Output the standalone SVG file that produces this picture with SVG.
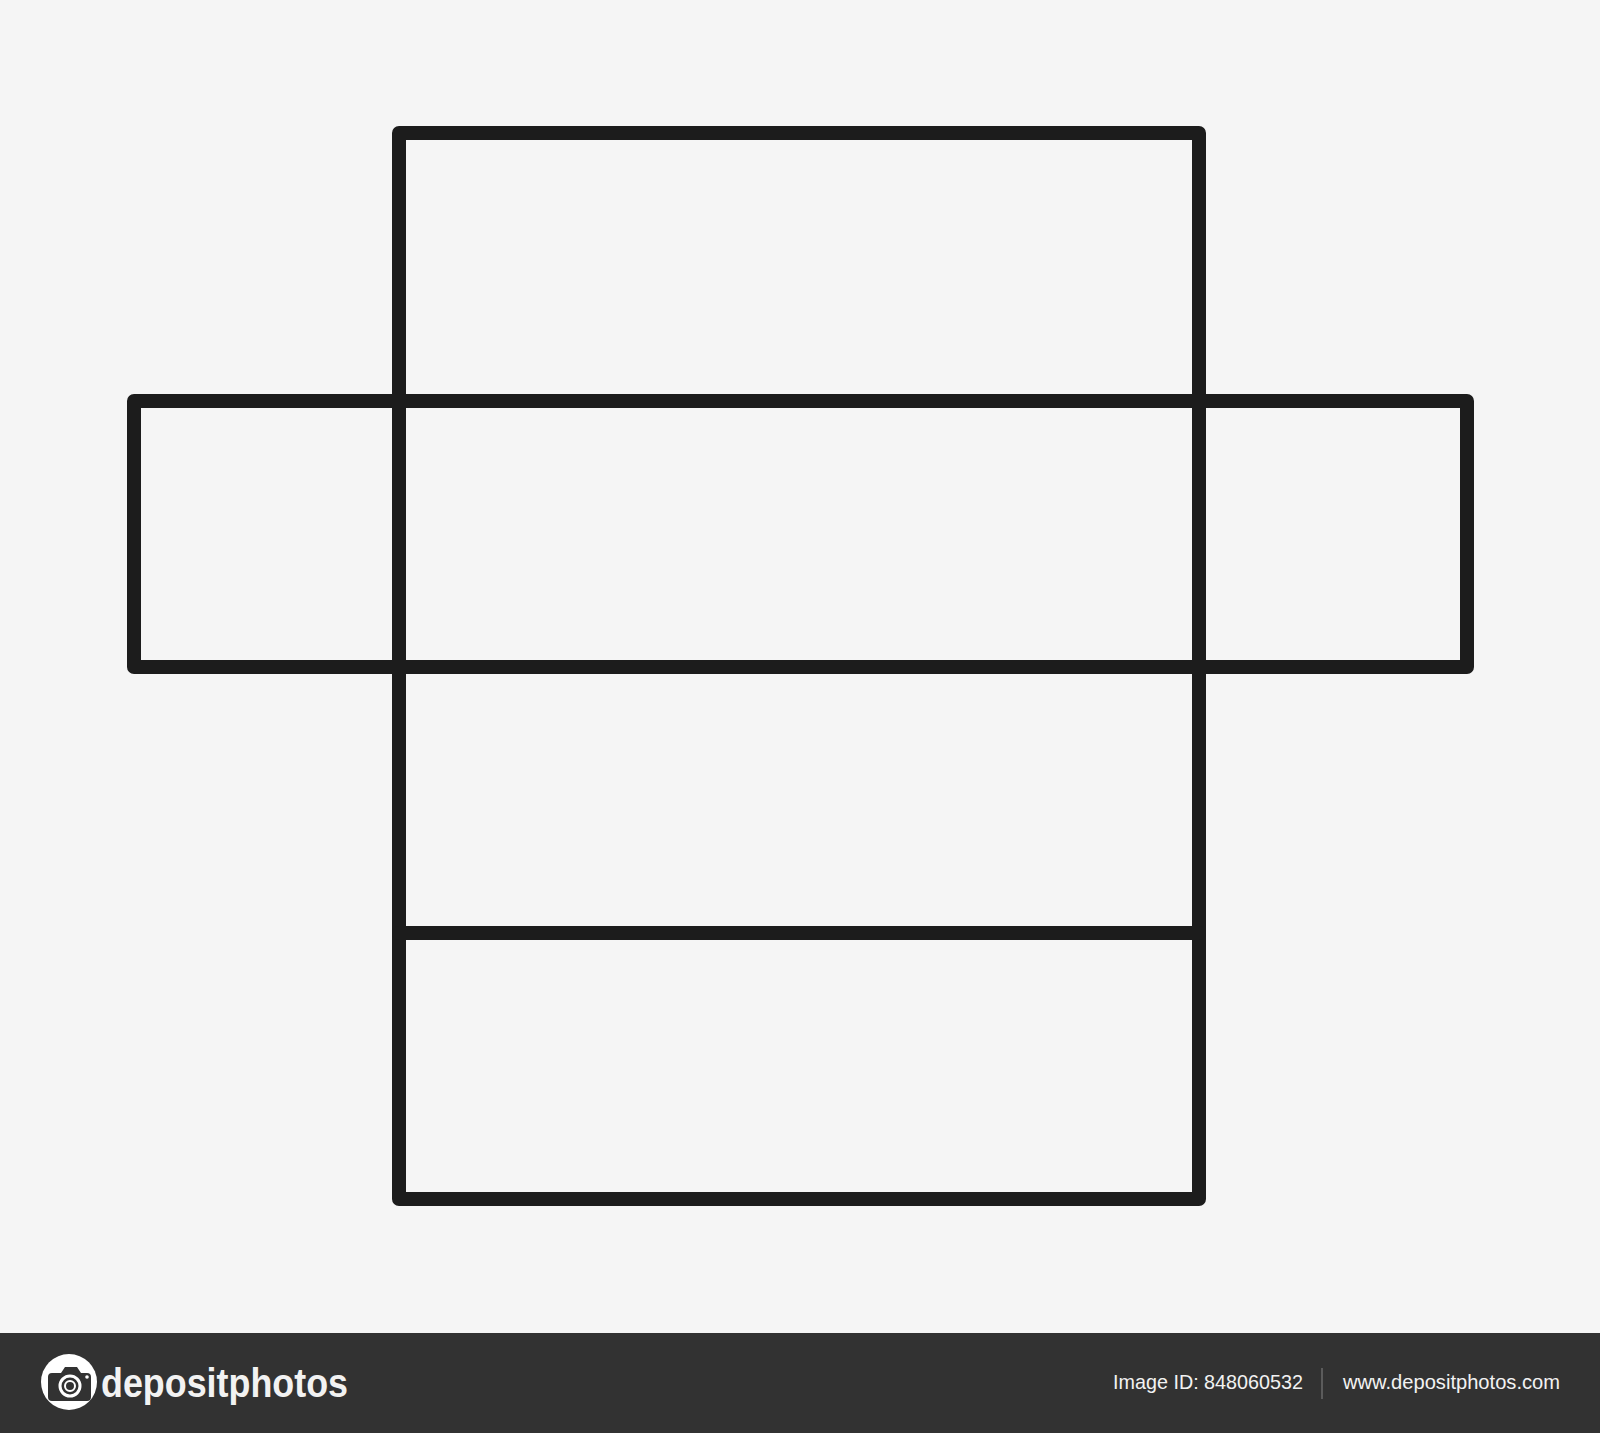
<svg xmlns="http://www.w3.org/2000/svg" width="1600" height="1433" viewBox="0 0 1600 1433">
<style>
.ln{fill:none;stroke:#1c1c1c;stroke-width:14;stroke-linejoin:round;stroke-linecap:round}
.ft{font-family:"Liberation Sans",Arial,sans-serif;fill:#f2f2f2}
</style>
<rect x="0" y="0" width="1600" height="1433" fill="#f5f5f5"/>
<g id="net">
<rect id="main" class="ln" x="399" y="133" width="800" height="1066"/>
<rect id="side" class="ln" x="134" y="401" width="1333" height="266"/>
<line id="fold" class="ln" x1="399" y1="933" x2="1199" y2="933"/>
</g>
<g id="footer">
<rect x="0" y="1333" width="1600" height="100" fill="#323232"/>
<circle cx="69" cy="1382" r="28" fill="#ffffff"/>
<path d="M52,1373 h9 l4,-6 h12 l4,6 h6 a4,4 0 0 1 4,4 v20 a4,4 0 0 1 -4,4 h-35 a4,4 0 0 1 -4,-4 v-20 a4,4 0 0 1 4,-4z" fill="#323232"/>
<circle cx="70" cy="1386" r="10" fill="none" stroke="#ffffff" stroke-width="3"/>
<circle cx="70" cy="1386" r="5" fill="none" stroke="#ffffff" stroke-width="2"/>
<circle cx="87" cy="1377" r="1.8" fill="#ffffff"/>
<text class="ft" x="101" y="1397" font-size="40" font-weight="bold" font-family="Lato, 'Liberation Sans', sans-serif" textLength="247" lengthAdjust="spacingAndGlyphs" fill="#ffffff">depositphotos</text>
<text class="ft" x="1113" y="1389" font-size="21" textLength="190" lengthAdjust="spacingAndGlyphs">Image ID: 848060532</text>
<line x1="1322" y1="1368" x2="1322" y2="1399" stroke="#6a6a6a" stroke-width="1.5"/>
<text class="ft" x="1343" y="1389" font-size="21" textLength="217" lengthAdjust="spacingAndGlyphs">www.depositphotos.com</text>
</g>
</svg>
